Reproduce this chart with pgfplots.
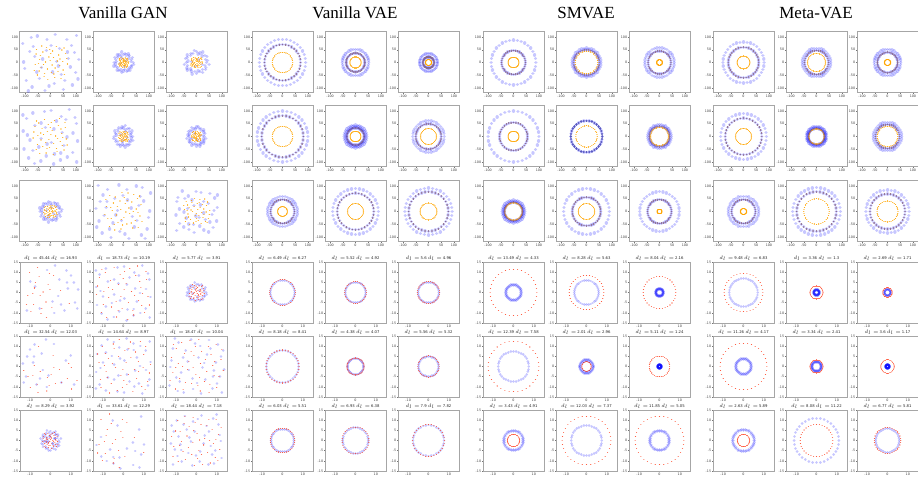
\documentclass[border=0pt]{standalone}
\usepackage{fontspec}
\setmainfont{Liberation Serif}
\newfontfamily\dv{DejaVu Sans}
\usepackage{pgfplots}
\usepackage{pgfplotstable}
\pgfplotsset{compat=1.18}

% unit circle, 36 points
\pgfplotstableread{
x y
1 0
.985 .174
.940 .342
.866 .5
.766 .643
.643 .766
.5 .866
.342 .940
.174 .985
0 1
-.174 .985
-.342 .940
-.5 .866
-.643 .766
-.766 .643
-.866 .5
-.940 .342
-.985 .174
-1 0
-.985 -.174
-.940 -.342
-.866 -.5
-.766 -.643
-.643 -.766
-.5 -.866
-.342 -.940
-.174 -.985
0 -1
.174 -.985
.342 -.940
.5 -.866
.643 -.766
.766 -.643
.866 -.5
.940 -.342
.985 -.174
}\Ua
% unit circle, 24 points
\pgfplotstableread{
x y
1 0
.966 .259
.866 .5
.707 .707
.5 .866
.259 .966
0 1
-.259 .966
-.5 .866
-.707 .707
-.866 .5
-.966 .259
-1 0
-.966 -.259
-.866 -.5
-.707 -.707
-.5 -.866
-.259 -.966
0 -1
.259 -.966
.5 -.866
.707 -.707
.866 -.5
.966 -.259
}\Ub
% ring-like cluster
\pgfplotstableread{
x y
1.05 0
.81 .14
.89 .32
.97 .56
.60 .50
.63 .75
.54 .94
.29 .81
.17 .99
0 .9
-.20 1.13
-.27 .75
-.49 .84
-.68 .81
-.64 .54
-.95 .55
-.86 .31
-.78 .14
-1.03 0
-.87 -.15
-1.06 -.39
-.81 -.47
-.62 -.52
-.69 -.82
-.50 -.86
-.29 -.80
-.19 -1.09
0 -.91
.13 -.76
.36 -.98
.48 -.83
.70 -.83
.64 -.53
.87 -.5
.87 -.32
1.12 -.20
.3 .2
-.4 -.1
.1 -.45
-.2 .5
}\RC
% scattered cloud (blue)
\pgfplotstableread{
x y
0.82 0.35
-0.45 0.91
0.13 -0.72
-0.88 -0.21
0.56 0.78
-0.27 0.12
0.94 -0.56
-0.63 -0.84
0.31 0.47
-0.95 0.66
0.07 -0.33
0.68 -0.15
-0.12 0.79
0.44 -0.93
-0.71 0.38
0.89 0.92
-0.38 -0.55
0.21 0.03
-0.54 0.21
0.75 -0.77
-0.83 -0.62
0.02 0.58
0.61 0.14
-0.19 -0.96
0.37 -0.41
-0.66 0.86
0.97 0.11
-0.31 -0.18
0.16 0.95
-0.92 0.02
0.49 -0.62
-0.05 -0.81
0.72 0.59
-0.47 -0.33
0.27 -0.12
-0.76 -0.97
0.58 0.36
-0.14 0.41
0.86 -0.34
-0.59 0.54
}\CB
% scattered cloud (orange / red)
\pgfplotstableread{
x y
0.12 0.64
-0.53 -0.28
0.71 -0.42
-0.22 0.83
0.38 0.09
-0.81 0.47
0.05 -0.57
0.64 0.71
-0.36 -0.79
0.91 0.23
-0.67 -0.05
0.24 -0.86
-0.09 0.31
0.52 -0.18
-0.43 0.59
0.78 -0.69
-0.91 -0.44
0.33 0.88
-0.17 -0.36
0.46 0.42
-0.61 0.17
0.09 -0.14
-0.74 -0.71
0.85 0.52
-0.28 0.02
0.59 -0.89
-0.49 0.93
0.17 0.27
-0.86 -0.13
0.42 -0.51
-0.04 0.73
0.69 0.04
-0.33 -0.62
0.26 -0.31
-0.57 0.39
0.95 -0.08
-0.15 -0.94
0.53 0.19
-0.79 0.74
0.01 0.49
-0.39 -0.11
0.76 0.81
-0.64 -0.47
0.19 -0.64
-0.02 0.12
}\CO

\definecolor{dkc}{RGB}{138,102,128}
\definecolor{orgc}{RGB}{255,165,0}
\definecolor{tomc}{RGB}{255,75,45}

% a cheap round dot: a very short stroke with round caps
\pgfdeclareplotmark{dot}{\pgfpathmoveto{\pgfpointorigin}\pgfpathlineto{\pgfpoint{0.01pt}{0pt}}\pgfusepathqstroke}

\pgfplotsset{
 panel/.style={scale only axis, width=61pt, height=61pt, anchor=north west,
   axis line style={black!35, line width=1pt},
   tick align=outside, major tick length=1.2pt, tick style={black!55, line width=0.35pt},
   tick pos=left,
   ticklabel style={font=\dv\fontsize{3.3}{3.3}\selectfont, text=black!75, inner sep=0.5pt},
   /pgf/number format/assume math mode=true,
   scaled ticks=false,
   every axis title shift=0pt,
   title style={font=\dv\fontsize{3.8}{3.8}\selectfont, text=black!85, anchor=base, at={(0.5,1)}, yshift=2.8pt, inner sep=0pt},
 },
 big/.style={panel, xmin=-120,xmax=120,ymin=-120,ymax=120,
   xtick={-100,-50,0,50,100}, ytick={-100,-50,0,50,100}},
 small/.style={panel, xmin=-15,xmax=15,ymin=-15,ymax=15,
   xtick={-10,0,10}, ytick={-15,-10,-5,0,5,10,15}},
 bl/.style={only marks, mark=dot, mark options={line width=3.4pt, line cap=round, draw=blue, draw opacity=0.22}},
 bls/.style={only marks, mark=dot, mark options={line width=2.8pt, line cap=round, draw=blue, draw opacity=0.22}},
 og/.style={only marks, mark=dot, mark options={line width=1.3pt, line cap=round, draw=orgc, draw opacity=0.9}},
 dk/.style={only marks, mark=dot, mark options={line width=1.8pt, line cap=round, draw=dkc, draw opacity=0.9}},
 dkb/.style={only marks, mark=dot, mark options={line width=2.4pt, line cap=round, draw=blue!55!black, draw opacity=0.55}},
 rd/.style={only marks, mark=dot, mark options={line width=1.1pt, line cap=round, draw=tomc, draw opacity=0.9}},
}

\newcommand\BP[3]{\begin{axis}[big, at={(#1pt,-#2pt)}]#3\end{axis}}
\newcommand\SP[4]{\begin{axis}[small, at={(#1pt,-#2pt)}, title={#3}]#4\end{axis}}
\newcommand\ring[3]{\addplot[#1] table[x expr=#3*\thisrow{x}, y expr=#3*\thisrow{y}] {#2};}
\newcommand\cl[4]{\addplot[#1] table[x expr=#3*\thisrow{x}, y expr=#4*\thisrow{y}] {#2};}
\newcommand\cls[4]{\addplot[#1] table[x expr=#3*\thisrow{y}, y expr=#4*\thisrow{x}] {#2};}
\newcommand\tri[3]{\ring{bl}{\Ua}{#1}\ring{bl}{\Ua}{#2}\ring{dk}{\Ua}{#2}\ring{og}{\Ua}{#3}}
\newcommand\two[2]{\ring{bls}{\Ua}{#1}\ring{rd}{\Ua}{#2}}
\newcommand\dd[2]{$d_l =$ #1 $d_l =$ #2}

\begin{document}
\begin{tikzpicture}
\path[use as bounding box] (0,0) rectangle (918pt,-481pt);
\node[font=\fontsize{17}{17}\selectfont, anchor=base] at (123pt,-19pt) {Vanilla GAN};
\node[font=\fontsize{17}{17}\selectfont, anchor=base] at (355pt,-19pt) {Vanilla VAE};
\node[font=\fontsize{17}{17}\selectfont, anchor=base] at (586pt,-19pt) {SMVAE};
\node[font=\fontsize{17}{17}\selectfont, anchor=base] at (816pt,-19pt) {Meta-VAE};

% ---------------- Vanilla GAN ----------------
\BP{20}{32}{\cl{bl}{\CB}{115}{115}\cl{og}{\CO}{70}{70}}
\BP{93}{32}{\cl{bl}{\RC}{36}{36}\cl{og}{\CO}{20}{20}}
\BP{166}{32}{\cls{bl}{\RC}{44}{42}\cl{og}{\CO}{24}{22}}
\BP{20}{106}{\cls{bl}{\CB}{112}{-112}\cl{og}{\CO}{-72}{75}}
\BP{93}{106}{\cl{bl}{\RC}{-35}{38}\cls{og}{\CO}{20}{22}}
\BP{166}{106}{\cls{bl}{\RC}{-34}{36}\cl{og}{\CO}{-20}{-21}}
\BP{20}{181}{\cl{bl}{\RC}{40}{-36}\cls{og}{\CO}{28}{26}}
\BP{93}{181}{\cl{bl}{\CB}{-112}{110}\cls{og}{\CO}{78}{80}}
\BP{166}{181}{\cls{bl}{\CB}{-85}{-85}\cl{og}{\CO}{55}{-55}}
\SP{20}{262}{\dd{45.44}{16.93}}{\cl{bls,each nth point=2}{\CB}{14}{14}\cl{rd,each nth point=2}{\CO}{13}{13}}
\SP{93}{262}{\dd{18.73}{10.19}}{\cls{bls}{\CB}{14}{-14}\cl{rd}{\CO}{-14}{14}}
\SP{166}{262}{\dd{5.77}{3.91}}{\cl{bls}{\RC}{4.5}{4.2}\cl{rd}{\CO}{4}{4}}
\SP{20}{336}{\dd{32.54}{12.03}}{\cl{bls,each nth point=2}{\CB}{-14}{14}\cls{rd,each nth point=2}{\CO}{14}{14}}
\SP{93}{336}{\dd{14.64}{8.97}}{\cls{bls}{\CB}{14}{14}\cl{rd}{\CO}{14}{-14}}
\SP{166}{336}{\dd{18.47}{10.04}}{\cl{bls}{\CB}{14}{-14}\cls{rd}{\CO}{-14}{14}}
\SP{20}{410}{\dd{8.29}{3.92}}{\cls{bls}{\RC}{4.5}{-4.5}\cl{bls,each nth point=3}{\CB}{3}{3}\cl{rd}{\CO}{-4}{4}}
\SP{93}{410}{\dd{33.61}{12.29}}{\cls{bls,each nth point=2}{\CB}{-14}{-14}\cl{rd,each nth point=2}{\CO}{14}{14}}
\SP{166}{410}{\dd{18.44}{7.18}}{\cl{bls}{\CB}{-13}{-13}\cls{rd}{\CO}{13}{-13}}

% ---------------- Vanilla VAE ----------------
\BP{252}{32}{\tri{91}{71}{40}}
\BP{325}{32}{\tri{52}{37}{22}}
\BP{398}{32}{\tri{35}{22}{12}}
\BP{252}{106}{\tri{100}{82}{40}}
\BP{325}{106}{\tri{45}{34}{21}\ring{bl}{\Ub}{39}}
\BP{398}{106}{\tri{62}{50}{31}}
\BP{252}{181}{\tri{59}{47}{19}}
\BP{325}{181}{\tri{90}{72}{31}}
\BP{398}{181}{\tri{93}{78}{33}}
\SP{252}{262}{\dd{6.49}{6.27}}{\two{6.0}{6.3}}
\SP{325}{262}{\dd{5.52}{4.92}}{\two{5.0}{5.3}}
\SP{398}{262}{\dd{5.6}{4.96}}{\two{5.1}{5.4}}
\SP{252}{336}{\dd{8.18}{8.41}}{\two{7.9}{8.1}}
\SP{325}{336}{\dd{4.38}{4.07}}{\two{3.9}{4.2}}
\SP{398}{336}{\dd{5.56}{5.32}}{\two{4.9}{5.2}}
\SP{252}{410}{\dd{6.03}{5.51}}{\two{5.6}{6.0}}
\SP{325}{410}{\dd{6.93}{6.38}}{\two{6.3}{6.6}}
\SP{398}{410}{\dd{7.9}{7.82}}{\two{7.6}{7.8}}

% ---------------- SMVAE ----------------
\BP{483}{32}{\tri{88}{47}{21}}
\BP{556}{32}{\tri{57}{50}{44}}
\BP{629}{32}{\tri{58}{45}{11}}
\BP{483}{106}{\tri{100}{55}{21}}
\BP{556}{106}{\ring{bl}{\Ua}{62}\ring{dkb}{\Ua}{62}\ring{og}{\Ua}{42}}
\BP{629}{106}{\tri{47}{40}{35}}
\BP{483}{181}{\tri{45}{36}{34}\ring{bl}{\Ub}{40}}
\BP{556}{181}{\tri{90}{56}{32}}
\BP{629}{181}{\tri{78}{47}{9}}
\SP{483}{262}{\dd{13.49}{4.33}}{\two{4}{11.5}\ring{bls}{\Ub}{3.5}}
\SP{556}{262}{\dd{8.28}{5.63}}{\two{6}{8.5}}
\SP{629}{262}{\dd{8.04}{2.16}}{\two{2}{8}\ring{bls}{\Ub}{1.6}}
\SP{483}{336}{\dd{12.39}{7.58}}{\two{7.5}{12.5}}
\SP{556}{336}{\dd{2.01}{2.96}}{\two{3.5}{2.3}\ring{bls}{\Ub}{3}}
\SP{629}{336}{\dd{5.11}{1.24}}{\two{1}{5}\ring{bls}{\Ub}{0.8}}
\SP{483}{410}{\dd{3.43}{4.91}}{\two{5}{3}\ring{bls}{\Ub}{4.5}}
\SP{556}{410}{\dd{12.03}{7.37}}{\two{7.5}{12}}
\SP{629}{410}{\dd{11.85}{5.05}}{\two{5}{12}\ring{bls}{\Ub}{4.5}}

% ---------------- Meta-VAE ----------------
\BP{713}{32}{\tri{81}{60}{25}}
\BP{786}{32}{\tri{56}{47}{35}}
\BP{857}{32}{\tri{52}{40}{12}}
\BP{713}{106}{\tri{90}{72}{31}}
\BP{786}{106}{\tri{40}{32}{30}\ring{bl}{\Ub}{36}}
\BP{857}{106}{\tri{56}{47}{40}}
\BP{713}{181}{\tri{60}{47}{12}}
\BP{786}{181}{\tri{94}{78}{50}}
\BP{857}{181}{\tri{85}{69}{41}}
\SP{713}{262}{\dd{9.48}{6.83}}{\two{7}{9.5}}
\SP{786}{262}{\dd{3.36}{1.3}}{\two{1.5}{3.2}\ring{bls}{\Ub}{1.2}}
\SP{857}{262}{\dd{2.69}{1.71}}{\two{1.5}{2.3}}
\SP{713}{336}{\dd{11.26}{4.17}}{\two{4}{11.5}\ring{bls}{\Ub}{3.5}}
\SP{786}{336}{\dd{3.34}{2.41}}{\two{2.5}{3.2}\ring{bls}{\Ub}{2.1}}
\SP{857}{336}{\dd{3.6}{1.17}}{\two{1}{3.3}\ring{bls}{\Ub}{0.8}}
\SP{713}{410}{\dd{2.63}{5.89}}{\two{5.5}{3}\ring{bls}{\Ub}{5}}
\SP{786}{410}{\dd{8.08}{11.22}}{\two{11}{8}}
\SP{857}{410}{\dd{6.77}{5.81}}{\two{5.8}{6.5}}
\end{tikzpicture}
\end{document}
